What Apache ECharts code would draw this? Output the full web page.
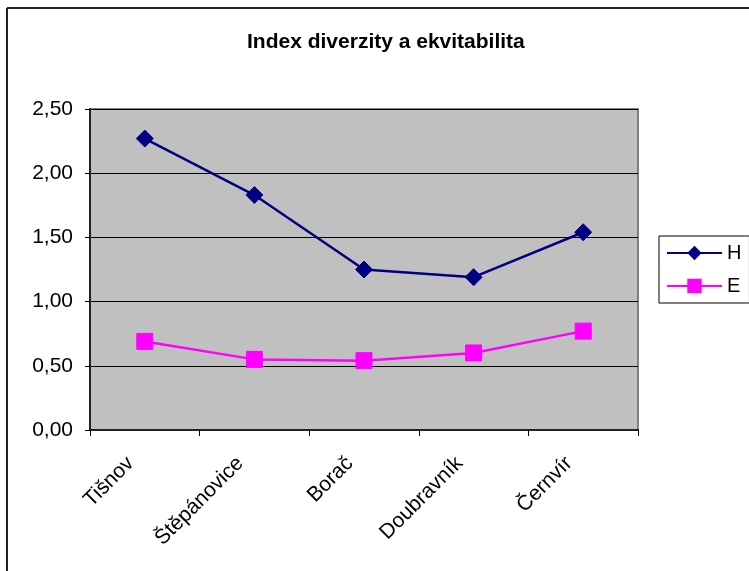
<!DOCTYPE html>
<html>
<head>
<meta charset="utf-8">
<script src="https://cdn.jsdelivr.net/npm/echarts@6/dist/echarts.min.js"></script>
<style>
  html, body { margin: 0; padding: 0; background: #fff; }
  #chart { width: 749px; height: 571px; }
</style>
</head>
<body>
<div id="chart"></div>
<script>
// Sampling sites along the river
const sites = ['Tišnov', 'Štěpánovice', 'Borač', 'Doubravník', 'Černvír'];
// Shannon diversity index H
const valuesH = [2.27, 1.83, 1.25, 1.19, 1.54];
// Equitability E
const valuesE = [0.69, 0.55, 0.54, 0.60, 0.77];
// Value axis ticks
const yTicks = [0, 0.5, 1.0, 1.5, 2.0, 2.5];

const FONT = "Arial, 'Liberation Sans', sans-serif";
const fmt = v => v.toFixed(2).replace('.', ',');

const chart = echarts.init(document.getElementById('chart'), null, { renderer: 'canvas' });

chart.setOption({
  backgroundColor: '#ffffff',
  animation: false,
  title: {
    text: 'Index diverzity a ekvitabilita',
    left: 242,
    top: 27,
    textStyle: { fontFamily: FONT, fontSize: 21, fontWeight: 'bold', color: '#000' }
  },
  graphic: [
    { type: 'line', shape: { x1: 7, y1: 8, x2: 7, y2: 571 }, style: { stroke: '#222', lineWidth: 2 } },
    { type: 'line', shape: { x1: 7, y1: 8, x2: 749, y2: 8 }, style: { stroke: '#222', lineWidth: 2 } }
  ],
  legend: {
    orient: 'vertical',
    left: 659,
    top: 236,
    padding: [7, 8, 7, 7],
    itemGap: 13,
    itemWidth: 55,
    itemHeight: 18,
    borderColor: '#000',
    borderWidth: 1,
    backgroundColor: '#fff',
    textStyle: { fontFamily: FONT, fontSize: 20, color: '#000', padding: [0, 0, 0, 0] },
    data: ['H', 'E']
  },
  grid: {
    left: 90, top: 109, right: 111, bottom: 141,
    show: true,
    backgroundColor: '#C0C0C0',
    borderColor: '#808080',
    borderWidth: 2
  },
  xAxis: {
    type: 'category',
    data: sites,
    boundaryGap: true,
    axisLine: { show: true, lineStyle: { color: '#222', width: 2 } },
    axisTick: { show: true, length: 6, alignWithLabel: false, lineStyle: { color: '#000', width: 1 } },
    axisLabel: {
      rotate: 45,
      margin: 16,
      interval: 0,
      padding: [0, 20, 0, 0],
      fontFamily: FONT,
      fontSize: 21,
      color: '#000'
    },
    splitLine: { show: false }
  },
  yAxis: {
    type: 'value',
    min: yTicks[0],
    max: yTicks[yTicks.length - 1],
    interval: 0.5,
    axisLine: { show: true, lineStyle: { color: '#222', width: 2 } },
    axisTick: { show: true, length: 5, inside: false, lineStyle: { color: '#000', width: 1 } },
    axisLabel: {
      margin: 17,
      fontFamily: FONT,
      fontSize: 21,
      color: '#000',
      formatter: v => fmt(v)
    },
    splitLine: { show: true, lineStyle: { color: '#000', width: 1 } }
  },
  series: [
    {
      name: 'H',
      type: 'line',
      data: valuesH,
      symbol: 'diamond',
      symbolSize: 17,
      lineStyle: { color: '#000080', width: 2.5 },
      itemStyle: { color: '#000080', borderColor: '#000080' },
      z: 3
    },
    {
      name: 'E',
      type: 'line',
      data: valuesE,
      symbol: 'rect',
      symbolSize: 16,
      lineStyle: { color: '#FF00FF', width: 2.5 },
      itemStyle: { color: '#FF00FF', borderColor: '#FF00FF' },
      z: 3
    }
  ]
});
</script>
</body>
</html>
